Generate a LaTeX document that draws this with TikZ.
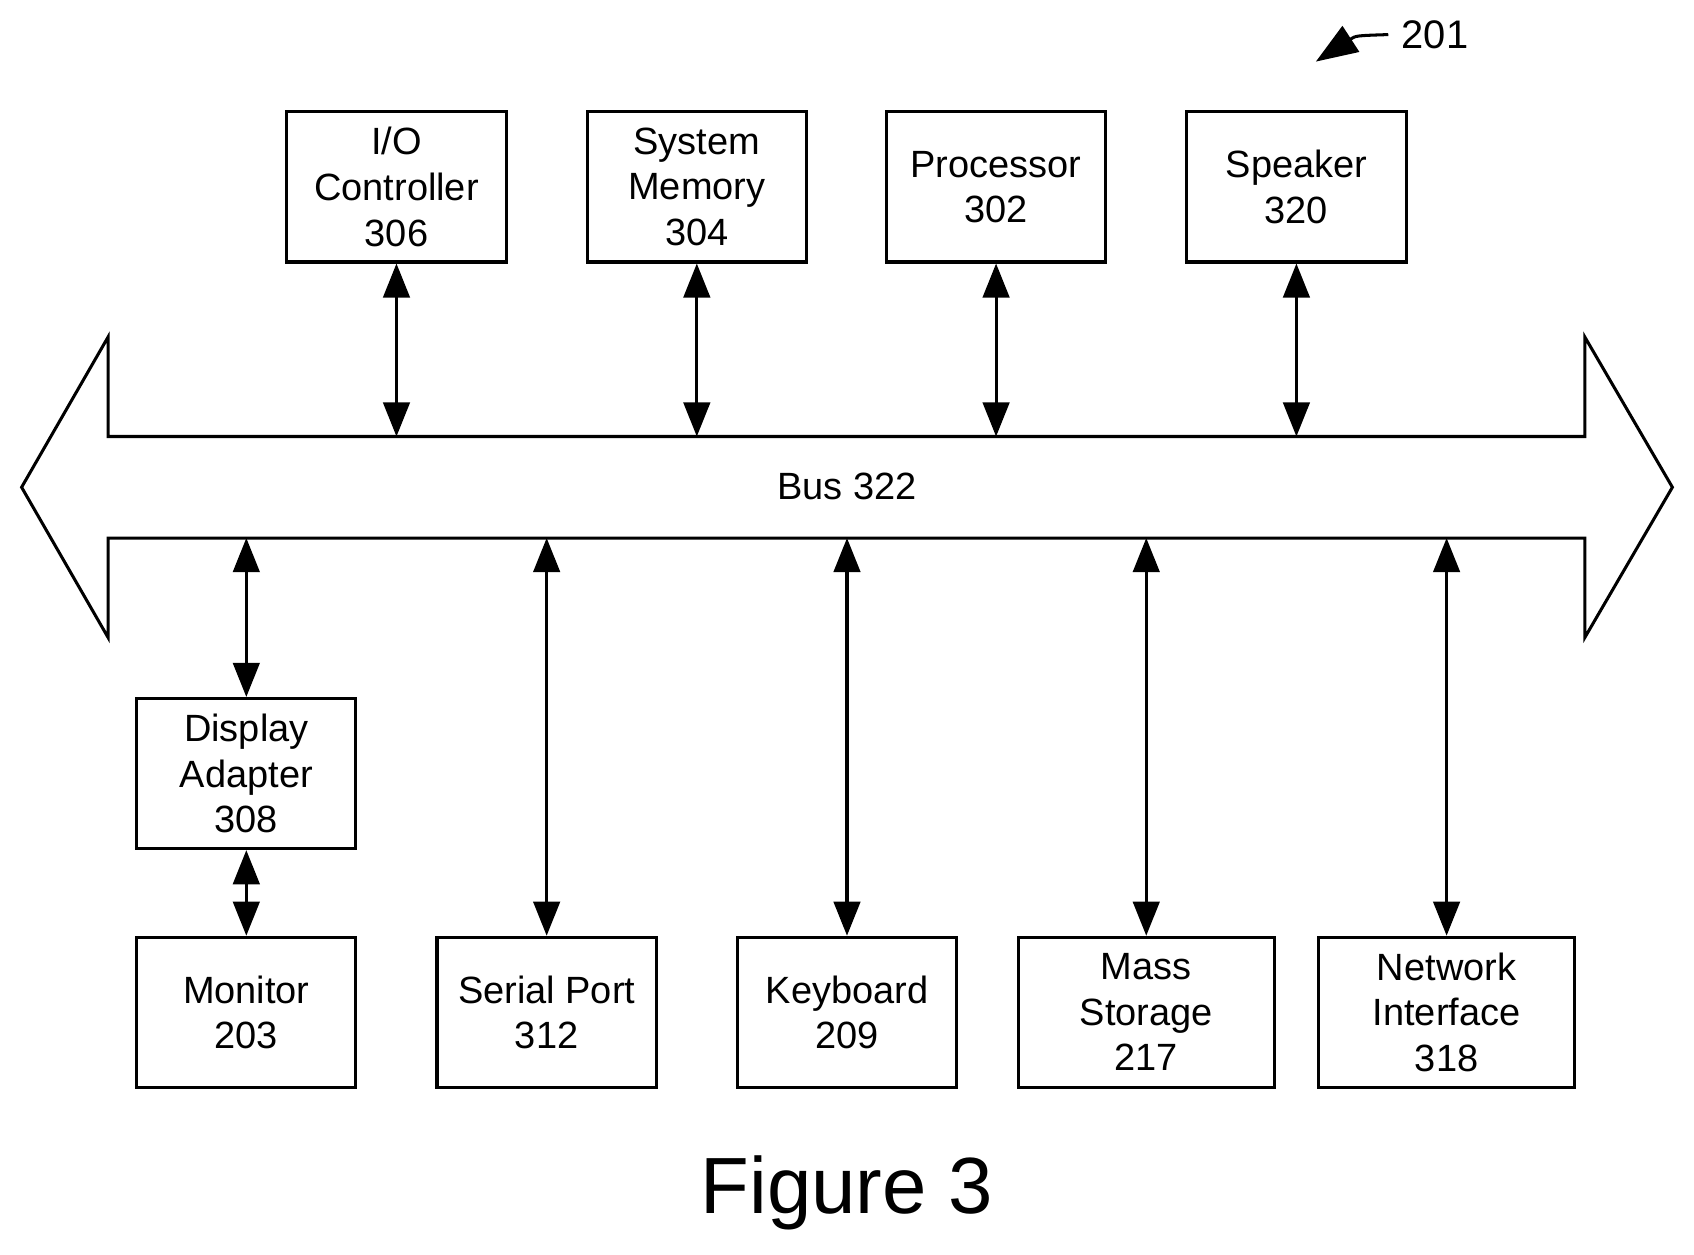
\documentclass[tikz,border=0pt]{standalone}
\usepackage{fontspec}
\setmainfont{Liberation Sans}
\usetikzlibrary{positioning,arrows.meta}
\begin{document}
\begin{tikzpicture}[x=0.1mm,y=-0.1mm,
  box/.style={draw, thick, align=center, minimum width=2.03cm, minimum height=1.39cm,
    inner sep=1pt, font=\fontsize{10}{12}\selectfont},
  wide/.style={box, minimum width=2.37cm},
  link/.style={thick, {Triangle[length=9pt,width=7pt]}-{Triangle[length=9pt,width=7pt]}}]

  \useasboundingbox (0,0) rectangle (1568,1161);

  % bus
  \draw[thick] (100,404) -- (100,312) -- (20,451) -- (100,590) -- (100,498)
    -- (1467,498) -- (1467,590) -- (1548,451) -- (1467,312) -- (1467,404) -- cycle;
  \coordinate (bust) at (0,404);
  \coordinate (busb) at (0,498);
  \node[font=\fontsize{10}{12}\selectfont] (bus) at (784,450) {Bus 322};

  % top row
  \node[box] (io) at (367,173) {I/O\\Controller\\306};
  \node[box] (mem) at (645,173) {System\\Memory\\304};
  \node[box] (cpu) at (922,173) {Processor\\302};
  \node[box] (spk) at (1200,173) {Speaker\\320};

  % bottom row
  \node[box] (disp) at (228,716) {Display\\Adapter\\308};
  \node[box] (mon) at (228,937) {Monitor\\203};
  \node[box] (ser) at (506,937) {Serial Port\\312};
  \node[box] (kbd) at (784,937) {Keyboard\\209};
  \node[wide] (mass) at (1061,937) {Mass\\Storage\\217};
  \node[wide] (net) at (1339,937) {Network\\Interface\\318};

  \foreach \n in {io,mem,cpu,spk}
    \draw[link] (\n.south) -- (\n.south |- bust);
  \foreach \n in {disp,ser,kbd,mass,net}
    \draw[link] (\n.north |- busb) -- (\n.north);
  \draw[link] (disp) -- (mon);

  % reference label
  \node[font=\fontsize{10.5}{12}\selectfont, anchor=west] (ref) at (1285,32) {201};
  \coordinate (reftip) at (1218,57);
  \draw[thick, -{Triangle[length=11pt,width=8pt]}] (ref.west) .. controls (1255,33) .. (reftip);

  \node[font=\fontsize{21}{24}\selectfont] (fig) at (784,1104) {Figure 3};
\end{tikzpicture}
\end{document}
